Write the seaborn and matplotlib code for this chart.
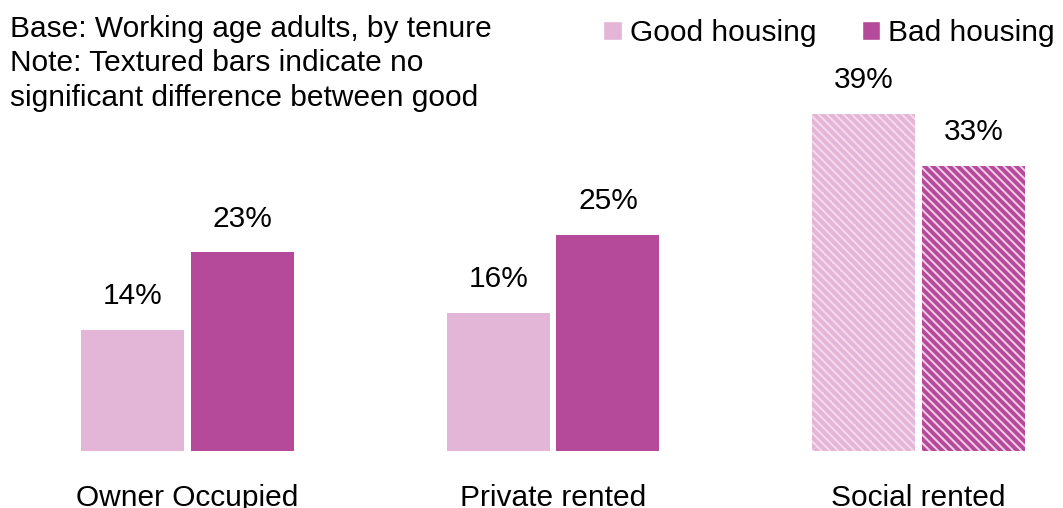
import pandas as pd
import matplotlib.pyplot as plt
import seaborn as sns
from matplotlib.patches import Patch
from matplotlib.transforms import Bbox, TransformedBbox

# Data
tenure = ["Owner Occupied", "Private rented", "Social rented"]
good_housing = [14, 16, 39]
bad_housing = [23, 25, 33]
no_sig_diff = [False, False, True]
housing_labels = ["Good housing", "Bad housing"]
note_lines = [
    "Base: Working age adults, by tenure",
    "Note: Textured bars indicate no",
    "significant difference between good",
]

good_col = "#e3b5d6"
bad_col = "#b44a99"
good_hatch_face = "#f7d9ec"
bad_hatch_face = "#f2cde6"

df = pd.DataFrame({
    "tenure": tenure * 2,
    "pct": good_housing + bad_housing,
    "housing": [housing_labels[0]] * 3 + [housing_labels[1]] * 3,
})

sns.set_theme(style="white")
plt.rcParams["font.family"] = ["Liberation Sans", "DejaVu Sans"]
plt.rcParams["text.color"] = "black"
plt.rcParams["xtick.color"] = "black"
plt.rcParams["hatch.linewidth"] = 2.8
FS = 21.5

W, H = 1063, 508
fig = plt.figure(figsize=(W / 100, H / 100), dpi=100)
base_y = 451
ax = fig.add_axes([0, (H - base_y) / H, 1, base_y / H])

sns.barplot(data=df, x="tenure", y="pct", hue="housing",
            palette=[good_col, bad_col], saturation=1, width=0.6, gap=0.06,
            legend=False, ax=ax)

faces_hatched = [good_hatch_face, bad_hatch_face]
cols = [good_col, bad_col]
for k, cont in enumerate(ax.containers):
    for i, bar in enumerate(cont.patches):
        bar.set_linewidth(0)
        if no_sig_diff[i]:
            bar.set_facecolor(faces_hatched[k])
            bar.set_edgecolor(cols[k])
            bar.set_hatch("\\\\\\\\")
    vals = good_housing if k == 0 else bad_housing
    ax.bar_label(cont, labels=[f"{v}%" for v in vals], padding=14,
                 fontsize=FS, color="black")

# px -> data scaling
px_per_unit = 365.6
c0 = 187.5
ax.set_xlim(-c0 / px_per_unit, (W - c0) / px_per_unit)
ax.set_ylim(0, base_y / 8.65)
ax.set_xlabel("")
ax.set_ylabel("")
ax.set_yticks([])
ax.tick_params(axis="x", length=0, pad=24, labelsize=FS, labelcolor="black")
sns.despine(ax=ax, left=True, bottom=True)

# Note text (top-left, clipped box)
clip = TransformedBbox(Bbox([[0, 1 - 113 / H], [0.6, 1]]), fig.transFigure)
for line, by in zip(note_lines, [37, 71, 106]):
    t = fig.text(10 / W, 1 - by / H, line, fontsize=FS, va="baseline", ha="left")
    t.set_clip_box(clip)
    t.set_clip_on(True)

handles = [Patch(facecolor=good_col), Patch(facecolor=bad_col)]
fig.legend(handles, housing_labels, loc="center right",
           bbox_to_anchor=(1055 / W, 1 - 33 / H), ncol=2, frameon=False,
           fontsize=FS, handlelength=0.63, handleheight=0.63,
           handletextpad=0.27, columnspacing=1.5, borderpad=0, borderaxespad=0)

fig.savefig("out.png", dpi=100)
